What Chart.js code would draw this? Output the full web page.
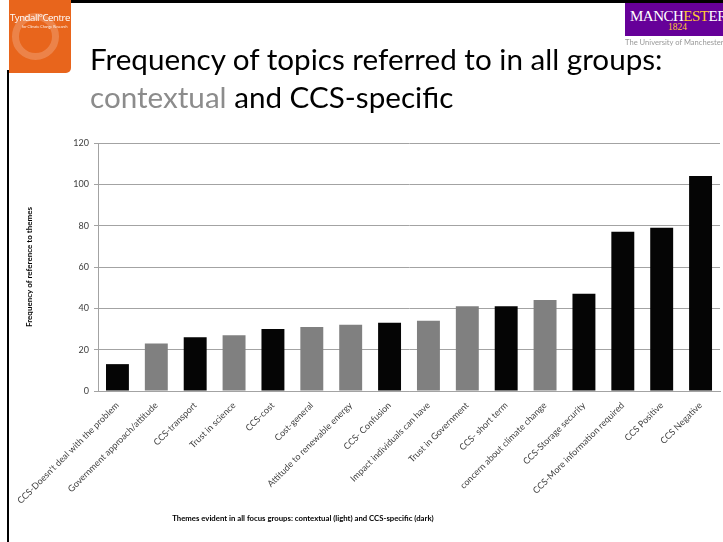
<!DOCTYPE html>
<html>
<head>
<meta charset="utf-8">
<script src="https://cdn.jsdelivr.net/npm/chart.js"></script>
<style>
html,body{margin:0;padding:0;background:#fff;}
body{width:723px;height:542px;position:relative;overflow:hidden;font-family:Lato,"Open Sans",sans-serif;}
#chartWrap{position:absolute;left:0;top:0;width:723px;height:542px;}
#frameTop{position:absolute;left:70px;top:0;width:653px;height:3px;background:#000;}
#frameLeft{position:absolute;left:7px;top:70px;width:2px;height:472px;background:#000;}
#tyndall{position:absolute;left:9px;top:0;width:62px;height:73px;background:#e8651c;border-bottom-right-radius:5px;overflow:hidden;}
#tyndall .ring{position:absolute;left:3px;top:13px;width:33px;height:33px;border:7px solid rgba(255,255,255,0.2);border-radius:50%;}
#tyndall .name{position:absolute;left:1px;top:11px;color:#fff;font-size:9.6px;letter-spacing:-0.45px;white-space:nowrap;font-family:"Open Sans",sans-serif;}
#tyndall .sub{position:absolute;left:13px;top:24px;color:#fff;font-size:3.6px;white-space:nowrap;opacity:0.9;}
#manc{position:absolute;left:625px;top:3px;width:98px;height:33px;background:#660099;overflow:hidden;}
#manc .m{position:absolute;left:5px;top:5px;color:#fff;font-family:"Liberation Serif","DejaVu Serif",serif;font-size:15px;letter-spacing:-0.5px;white-space:nowrap;}
#manc .m span{color:#ffcc33;}
#manc .y{position:absolute;left:43px;top:19px;color:#ffcc33;font-family:"Liberation Serif","DejaVu Serif",serif;font-size:9.5px;white-space:nowrap;}
#uni{position:absolute;left:625px;top:37px;color:#999;font-size:7.6px;white-space:nowrap;}
.title{position:absolute;left:90px;font-family:Lato,"Open Sans",sans-serif;font-size:27px;color:#000;white-space:nowrap;line-height:1;}
#t1{top:44px;}
#t2{top:82px;}
#t2 .g{color:#8c8c8c;}
#xTitle{position:absolute;top:515px;font-weight:bold;font-size:7.5px;color:#000;white-space:nowrap;line-height:1;}
</style>
</head>
<body>
<div id="chartWrap"><canvas id="c" width="723" height="542"></canvas></div>
<div id="frameTop"></div>
<div id="frameLeft"></div>
<div id="tyndall"><div class="ring"></div><div class="name">Tyndall°Centre</div><div class="sub">for Climate Change Research</div></div>
<div id="manc"><div class="m">MANCH<span>EST</span>ER</div><div class="y">1824</div></div>
<div id="uni">The University of Manchester</div>
<div class="title" id="t1">Frequency of topics referred to in all groups:</div>
<div class="title" id="t2"><span class="g">contextual</span> and CCS-specific</div>
<div id="xTitle">Themes evident in all focus groups: contextual (light) and CCS-specific (dark)</div>
<script>
const categories = [
  "CCS-Doesn't deal with the problem",
  "Government approach/attitude",
  "CCS-transport",
  "Trust in science",
  "CCS-cost",
  "Cost-general",
  "Attitude to renewable energy",
  "CCS- Confusion",
  "Impact individuals can have",
  "Trust in Government",
  "CCS- short term",
  "concern about climate change",
  "CCS-Storage security",
  "CCS-More information required",
  "CCS Positive",
  "CCS Negative"
];
const frequency = [13, 23, 26, 27, 30, 31, 32, 33, 34, 41, 41, 44, 47, 77, 79, 104];
const themeKind = ["ccs","ctx","ccs","ctx","ccs","ctx","ctx","ccs","ctx","ctx","ccs","ctx","ccs","ccs","ccs","ccs"];
const yTickValues = [0, 20, 40, 60, 80, 100, 120];

const kindColor = {ccs: '#050505', ctx: '#808080'};
const gridGray = '#a3a3a3';
const tickFont = {family: 'Lato, "Open Sans", sans-serif', size: 9};

function fitWidth(el, target){
  const fs = parseFloat(getComputedStyle(el).fontSize);
  const w = el.getBoundingClientRect().width;
  el.style.fontSize = (fs * target / w) + 'px';
}
fitWidth(document.getElementById('t1'), 573);
document.getElementById('t2').style.fontSize = document.getElementById('t1').style.fontSize;
const xt = document.getElementById('xTitle');
fitWidth(xt, 262);
xt.style.left = (303 - xt.getBoundingClientRect().width / 2) + 'px';

new Chart(document.getElementById('c'), {
  type: 'bar',
  data: {
    labels: categories,
    datasets: [{
      data: frequency,
      backgroundColor: themeKind.map(k => kindColor[k]),
      borderWidth: 0,
      barPercentage: 0.59,
      categoryPercentage: 1.0
    }]
  },
  options: {
    responsive: false,
    animation: false,
    layout: {padding: {left: 0, right: 3, top: 143, bottom: 0}},
    plugins: {legend: {display: false}, tooltip: {enabled: false}},
    scales: {
      x: {
        grid: {display: true, drawOnChartArea: false, drawTicks: false},
        border: {display: true, color: gridGray},
        ticks: {autoSkip: false, maxRotation: 45, minRotation: 45, font: tickFont, color: '#404040', padding: 9},
        afterFit(s){ s.height = 151; }
      },
      y: {
        min: 0, max: 120,
        afterBuildTicks(s){ s.ticks = yTickValues.map(v => ({value: v})); },
        ticks: {font: tickFont, color: '#404040', padding: 5},
        grid: {color: gridGray, tickLength: 4},
        border: {color: gridGray},
        title: {display: true, text: 'Frequency of reference to themes', color: '#000',
                font: {family: 'Lato, "Open Sans", sans-serif', size: 8, weight: 'bold'},
                padding: {top: 25, bottom: 0}},
        afterFit(s){ s.width = 98; }
      }
    }
  }
});
</script>
</body>
</html>
